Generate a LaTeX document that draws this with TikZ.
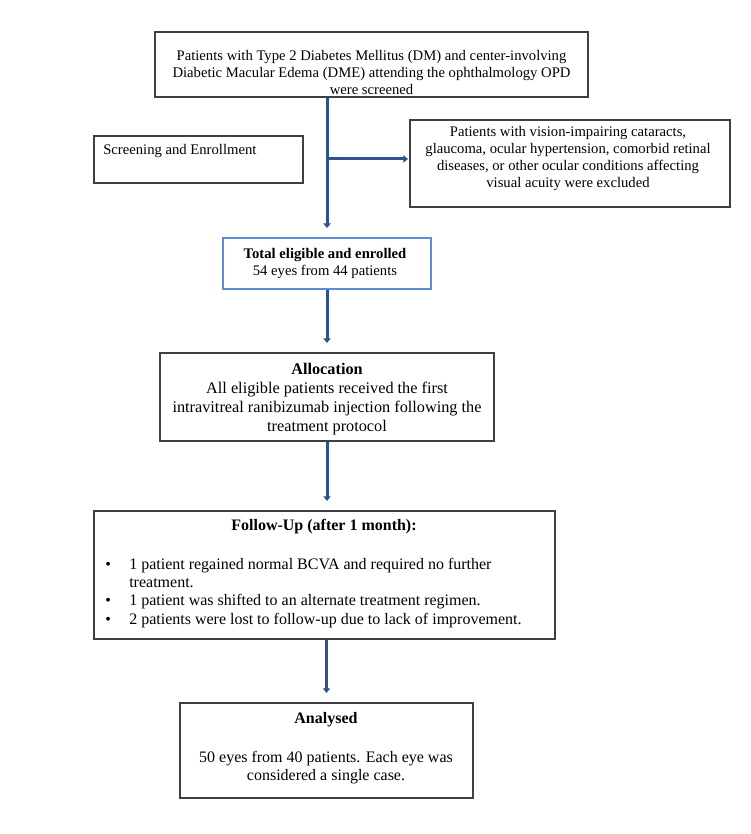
\documentclass[tikz,border=0pt]{standalone}
\usepackage{fontspec}
\setmainfont{Liberation Serif}
\usetikzlibrary{arrows.meta}
\newdimen\upx \upx=0.75pt
\definecolor{arrblue}{RGB}{47,82,143}
\definecolor{boxgray}{RGB}{64,64,64}
\definecolor{lblue}{RGB}{91,142,214}
\begin{document}
\begin{tikzpicture}[x=0.75pt,y=-0.75pt,
  box/.style={draw=boxgray,line width=1.1pt,inner sep=0pt},
  bluebox/.style={draw=lblue,line width=0.9pt,inner sep=0pt},
  fsA/.style={inner sep=0pt,font=\fontsize{11pt}{12.75pt}\selectfont},
  fsB/.style={inner sep=0pt,font=\fontsize{12pt}{13.75pt}\selectfont},
  fsC/.style={inner sep=0pt,font=\fontsize{12.2pt}{14.25pt}\selectfont},
  arr/.style={draw=arrblue,line width=2.25pt,-{Triangle[length=3.5pt,width=5.5pt]},shorten >=7pt}]
\fill[white] (0,0) rectangle (750,834);
\useasboundingbox (0,0) rectangle (750,834);

% boxes
\node[box,minimum width=433\upx,minimum height=65\upx] (b1) at (371.5,64.5) {};
\node[box,minimum width=209\upx,minimum height=47\upx] (scr) at (198.5,159.5) {};
\node[box,minimum width=320\upx,minimum height=87\upx] (ex) at (570,163.5) {};
\node[bluebox,minimum width=208\upx,minimum height=51\upx] (tot) at (327,263.5) {};
\node[box,minimum width=334\upx,minimum height=88\upx] (al) at (327,397) {};
\node[box,minimum width=461\upx,minimum height=128\upx] (fu) at (324.5,575) {};
\node[box,minimum width=293\upx,minimum height=95\upx] (an) at (326.5,750.5) {};

% texts
\node[fsA,anchor=north,align=center] (b1t) at (371.5,50)
  {Patients with Type 2 Diabetes Mellitus (DM) and center-involving\\
   Diabetic Macular Edema (DME) attending the ophthalmology OPD\\
   were screened};
\node[fsA,anchor=base west] (scrt) at (103,154.5) {Screening and Enrollment};
\node[fsA,anchor=north,align=center] (ext) at (568,126.5)
  {Patients with vision-impairing cataracts,\\
   glaucoma, ocular hypertension, comorbid retinal\\
   diseases, or other ocular conditions affecting\\
   visual acuity were excluded};
\node[fsA,anchor=north,align=center] (tott) at (325,248)
  {\textbf{Total eligible and enrolled}\\54 eyes from 44 patients};
\node[fsC,anchor=north,align=center] (alt) at (327,362.5)
  {\textbf{Allocation}\\
   All eligible patients received the first\\
   intravitreal ranibizumab injection following the\\
   treatment protocol};
\node[fsB,anchor=north] (fut) at (324,518.5) {\textbf{Follow-Up (after 1 month):}};
\node[fsB,anchor=north west,align=left] (ful) at (105,557.5)
  {\makebox[24\upx][l]{\textbullet}1 patient regained normal BCVA and required no further\\
   \hspace*{24\upx}treatment.\\
   \makebox[24\upx][l]{\textbullet}1 patient was shifted to an alternate treatment regimen.\\
   \makebox[24\upx][l]{\textbullet}2 patients were lost to follow-up due to lack of improvement.};
\node[fsB,anchor=north,align=center] (ant) at (326,712)
  {\textbf{Analysed}\\[15.5pt]
   50 eyes from 40 patients. Each eye was\\
   considered a single case.};

% connectors
\coordinate (br) at (326,159);
\draw[arr] (b1.south -| tot.north) -- (tot.north);
\draw[arr,shorten >=1pt] (br) -- (br -| ex.west);
\draw[arr] (tot.south) -- (al.north);
\draw[arr] (al.south) -- (al.south |- fu.north);
\draw[arr] (an.north |- fu.south) -- (an.north);
\end{tikzpicture}
\end{document}
